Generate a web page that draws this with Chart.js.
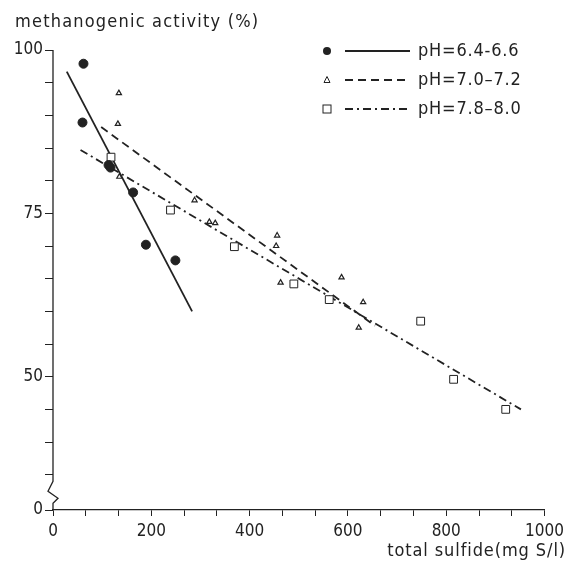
<!DOCTYPE html>
<html>
<head>
<meta charset="utf-8">
<title>methanogenic activity vs total sulfide</title>
<script src="https://cdn.jsdelivr.net/npm/chart.js@4.4.0/dist/chart.umd.min.js"></script>
<style>
    html, body { margin: 0; padding: 0; background: #fff; }
    #wrap { width: 569px; height: 568px; }
</style>
</head>
<body>
<div id="wrap"><canvas id="sulfideChart" width="569" height="568"></canvas></div>
<script>
// data
const circleX = [62, 60, 113, 117, 163, 189, 249];
const circleY = [97.9, 88.9, 82.4, 82.0, 78.2, 70.2, 67.8];
const triangleX = [134, 132, 135, 288, 318, 330, 456, 454, 463, 587, 631, 622];
const triangleY = [93.4, 88.7, 80.6, 77.0, 73.7, 73.5, 71.6, 70.0, 64.4, 65.2, 61.4, 57.5];
const squareX = [118, 239, 369, 490, 562, 748, 815, 921];
const squareY = [83.6, 75.5, 69.9, 64.2, 61.8, 58.5, 49.6, 45.0];

// fitted lines (end points)
const fitLowX = [28, 283];
const fitLowY = [96.7, 60.0];
const fitMidX = [98, 655];
const fitMidY = [88.2, 57.8];
const fitHighX = [56, 952];
const fitHighY = [84.7, 45.0];

const legendLabels = ['pH=6.4-6.6', 'pH=7.0\u20137.2', 'pH=7.8\u20138.0'];
const xTickLabels = [0, 200, 400, 600, 800, 1000];
const yTickLabels = [0, 50, 75, 100];
const yBreakMin = 29.6;   // axis is broken, bottom of axis shows "0"

const ink = '#222';
const fontFamily = '"Liberation Sans Narrow", "DejaVu Sans Condensed", sans-serif';

function toPoints(xs, ys) {
    return xs.map((x, i) => ({ x: x, y: ys[i] }));
}

const axisDecor = {
    id: 'axisDecor',
    beforeDraw(chart) {
        chart.ctx.letterSpacing = '0px';
    },
    afterDraw(chart) {
        const ctx = chart.ctx;
        const yScale = chart.scales.y;
        const xScale = chart.scales.x;
        const x0 = xScale.getPixelForValue(0);
        const top = yScale.getPixelForValue(100);
        const bottom = yScale.bottom;
        const breakTop = yScale.getPixelForValue(34);
        ctx.save();
        ctx.strokeStyle = ink;
        ctx.lineWidth = 1.3;
        ctx.beginPath();
        ctx.moveTo(x0, top);
        ctx.lineTo(x0, breakTop);
        ctx.lineTo(x0 - 5, breakTop + 10);
        ctx.lineTo(x0 + 5, breakTop + 17);
        ctx.lineTo(x0, breakTop + 22);
        ctx.lineTo(x0, bottom);
        ctx.stroke();

        // titles
        ctx.fillStyle = ink;
        ctx.font = '18px ' + fontFamily;
        ctx.letterSpacing = '1.2px';
        ctx.textBaseline = 'middle';
        ctx.textAlign = 'left';
        ctx.fillText('methanogenic activity (%)', 15, 22);
        ctx.textAlign = 'right';
        ctx.letterSpacing = '0.9px';
        ctx.fillText('total sulfide(mg S/l)', 566, 551);

        // legend
        const styles = [
            { dash: [], point: 'circle' },
            { dash: [8, 5], point: 'triangle' },
            { dash: [8, 4, 2, 4], point: 'rect' }
        ];
        const rowY = [51, 80, 109];
        ctx.textAlign = 'left';
        ctx.letterSpacing = '0.8px';
        legendLabels.forEach((label, i) => {
            const y = rowY[i];
            ctx.setLineDash(styles[i].dash);
            ctx.lineWidth = 1.8;
            ctx.beginPath();
            ctx.moveTo(345, y);
            ctx.lineTo(410, y);
            ctx.stroke();
            ctx.setLineDash([]);
            ctx.lineWidth = 1;
            if (i === 0) {
                ctx.beginPath();
                ctx.arc(327, y, 4, 0, Math.PI * 2);
                ctx.fill();
            } else if (i === 1) {
                ctx.beginPath();
                ctx.moveTo(327, y - 3.5);
                ctx.lineTo(330, y + 2.5);
                ctx.lineTo(324, y + 2.5);
                ctx.closePath();
                ctx.stroke();
            } else {
                ctx.strokeRect(323, y - 4, 8, 8);
            }
            ctx.fillText(label, 418, y);
        });
        ctx.restore();
    }
};

const ctx = document.getElementById('sulfideChart').getContext('2d');
new Chart(ctx, {
    type: 'scatter',
    data: {
        datasets: [
            {
                label: 'pH=6.4-6.6',
                data: toPoints(circleX, circleY),
                pointStyle: 'circle',
                pointRadius: 4.5,
                backgroundColor: ink,
                borderColor: ink,
                order: 0
            },
            {
                label: 'pH=7.0-7.2',
                data: toPoints(triangleX, triangleY),
                pointStyle: 'triangle',
                pointRadius: 3,
                borderWidth: 1.2,
                backgroundColor: '#fff',
                borderColor: ink,
                order: 0
            },
            {
                label: 'pH=7.8-8.0',
                data: toPoints(squareX, squareY),
                pointStyle: 'rect',
                pointRadius: 5.5,
                borderWidth: 1,
                backgroundColor: '#fff',
                borderColor: ink,
                order: 0
            },
            {
                type: 'line',
                data: toPoints(fitLowX, fitLowY),
                borderColor: ink,
                borderWidth: 1.8,
                pointRadius: 0,
                order: 1
            },
            {
                type: 'line',
                data: toPoints(fitMidX, fitMidY),
                borderColor: ink,
                borderWidth: 1.8,
                borderDash: [8, 5],
                pointRadius: 0,
                order: 1
            },
            {
                type: 'line',
                data: toPoints(fitHighX, fitHighY),
                borderColor: ink,
                borderWidth: 1.8,
                borderDash: [8, 4, 2, 4],
                pointRadius: 0,
                order: 1
            }
        ]
    },
    options: {
        responsive: false,
        animation: false,
        layout: { padding: { top: 50, right: 20, left: 0, bottom: 0 } },
        plugins: {
            legend: { display: false },
            tooltip: { enabled: false }
        },
        scales: {
            x: {
                type: 'linear',
                min: 0,
                max: 1000,
                afterBuildTicks: scale => {
                    const ticks = [];
                    for (let k = 0; k <= 15; k++) ticks.push({ value: k * 200 / 3 });
                    scale.ticks = ticks;
                },
                afterFit: scale => { scale.height = 58; },
                grid: { display: true, drawOnChartArea: false, tickLength: 6, color: ink, lineWidth: 1 },
                border: { display: true, color: ink, width: 1.3 },
                ticks: {
                    autoSkip: false,
                    maxRotation: 0,
                    padding: 5,
                    color: ink,
                    font: { family: fontFamily, size: 17 },
                    callback: v => {
                        const r = Math.round(v / 200) * 200;
                        return Math.abs(v - r) < 1e-6 && xTickLabels.includes(r) ? String(r) : '';
                    }
                }
            },
            y: {
                type: 'linear',
                min: yBreakMin,
                max: 100,
                afterBuildTicks: scale => {
                    const ticks = [{ value: yBreakMin }];
                    for (let v = 35; v <= 100; v += 5) ticks.push({ value: v });
                    scale.ticks = ticks;
                },
                afterFit: scale => { scale.width = 53; },
                grid: { display: true, drawOnChartArea: false, tickLength: 8, color: ink, lineWidth: 1 },
                border: { display: false },
                ticks: {
                    autoSkip: false,
                    padding: 2,
                    color: ink,
                    font: { family: fontFamily, size: 17 },
                    callback: v => {
                        if (v === yBreakMin) return String(yTickLabels[0]);
                        return yTickLabels.includes(v) ? String(v) : '';
                    }
                }
            }
        }
    },
    plugins: [axisDecor]
});
</script>
</body>
</html>
